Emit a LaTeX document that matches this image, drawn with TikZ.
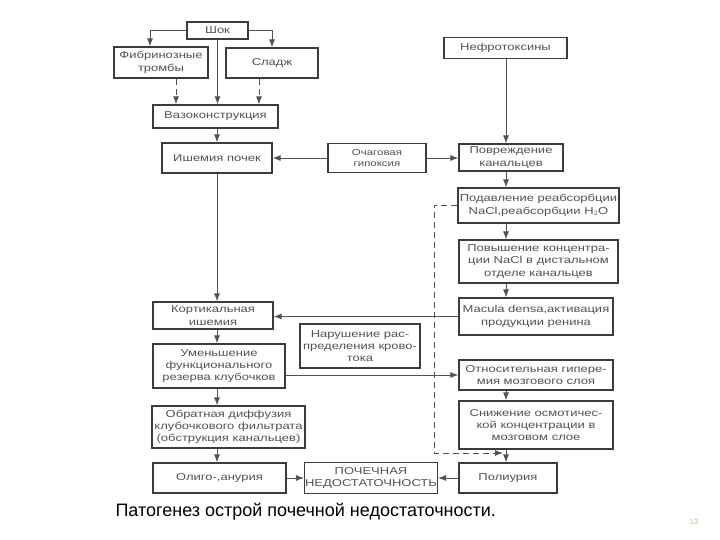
\documentclass[tikz,border=0pt]{standalone}
\usepackage{fontspec}
\setmainfont{Liberation Sans}
\newfontfamily\boxfont[FakeStretch=1.3]{Liberation Sans}
\usetikzlibrary{arrows.meta}
\definecolor{ink}{HTML}{525252}
\definecolor{rama}{HTML}{3C3C3C}
\definecolor{nomer}{HTML}{B8B890}
\newcommand{\blok}[6]{\node[blok,minimum width=#4pt,minimum height=#5pt] (#1) at (#2,#3) {#6};}
\newcommand{\link}[2]{\draw[strelka] (#1) -- (#2);}
\newcommand{\vlink}[3]{\draw[strelka] (#1.south -| #3) -- (#2.north -| #3);}
\tikzset{blok/.style={draw=rama,line width=1.2pt,text=ink,align=center,inner sep=0.5pt,
    font=\boxfont\fontsize{10}{12.3}\selectfont},
  strelka/.style={draw=ink,line width=0.9pt,-{Latex[length=8pt,width=6pt]}},
  punktir/.style={strelka,dash pattern=on 6pt off 4pt}}

\begin{document}
\begin{tikzpicture}[x=1pt,y=-1pt]
    \useasboundingbox (0,0) rectangle (720,540);
    \coordinate (lcol) at (217,0); \coordinate (rcol) at (506,0);
    % left column
    \blok{shok}{217.5}{30.5}{61}{17}{Шок}
    \blok{fibrin}{161}{62.5}{94}{31}{Фибринозные\\тромбы}
    \blok{sladzh}{272}{63}{92}{30}{Сладж}
    \blok{vazo}{215.5}{116.5}{125}{23}{Вазоконструкция}
    \blok{ishem}{217}{158}{110}{30}{Ишемия почек}
    \node[blok,minimum width=98pt,minimum height=29pt,font=\boxfont\fontsize{8.8}{10.8}\selectfont] (ochag) at (377,158) {Очаговая\\гипоксия};
    \blok{kortik}{213}{315.5}{120}{27}{Кортикальная\\ишемия}
    \blok{narush}{360}{346}{120}{44}{Нарушение рас-\\пределения крово-\\тока}
    \blok{umensh}{219}{366}{132}{44}{Уменьшение\\функционального\\резерва клубочков}
    \blok{obrat}{228.5}{427}{153}{42}{Обратная диффузия\\клубочкового фильтрата\\(обструкция канальцев)}
    \blok{oligo}{219.5}{478}{133}{30}{Олиго-,анурия}
    \blok{pochech}{371}{478}{130}{31}{ПОЧЕЧНАЯ\\НЕДОСТАТОЧНОСТЬ}
    % right column
    \blok{nefro}{505.5}{48}{123}{21}{Нефротоксины}
    \blok{povr}{511}{157.5}{104}{27}{Повреждение\\канальцев}
    \blok{podavl}{538.5}{205.5}{161}{35}{Подавление реабсорбции\\NaCl,реабсорбции H$_2$O}
    \blok{povysh}{538.5}{261.5}{159}{43}{Повышение концентра-\\ции NaCl в дистальном\\отделе канальцев}
    \blok{macula}{536}{316.5}{154}{37}{Macula densa,активация\\продукции ренина}
    \blok{otnosit}{536}{375}{154}{30}{Относительная гипере-\\мия мозгового слоя}
    \blok{snizh}{536}{425}{154}{48}{Снижение осмотичес-\\кой концентрации в\\мозговом слое}
    \blok{poliur}{508}{478}{98}{30}{Полиурия}
    % arrows
    \draw[strelka] (shok.west) -| ([xshift=-11pt]fibrin.north);
    \draw[strelka] (shok.east) -| (sladzh.north);
    \draw[strelka] (shok.south) -- (shok.south |- vazo.north);
    \draw[punktir] ([xshift=15pt]fibrin.south) -- ([xshift=15pt]fibrin.south |- vazo.north);
    \draw[punktir] ([xshift=-13pt]sladzh.south) -- ([xshift=-13pt]sladzh.south |- vazo.north);
    \vlink{vazo}{ishem}{lcol}\vlink{ishem}{kortik}{lcol}
    \vlink{kortik}{umensh}{lcol}\vlink{umensh}{obrat}{lcol}\vlink{obrat}{oligo}{lcol}
    \draw[strelka] (ochag.west) -- (ochag.west -| ishem.east);
    \draw[strelka] (ochag.east) -- (ochag.east -| povr.west);
    \vlink{nefro}{povr}{rcol}\vlink{povr}{podavl}{rcol}\vlink{podavl}{povysh}{rcol}
    \vlink{povysh}{macula}{rcol}\vlink{otnosit}{snizh}{rcol}\vlink{snizh}{poliur}{rcol}
    \draw[strelka] (macula.west) -- (macula.west -| kortik.east);
    \draw[strelka] (otnosit.west -| umensh.east) -- (otnosit.west);
    \link{oligo}{pochech}\link{poliur}{pochech}
    \coordinate (dsh) at (434,453); \coordinate (dend) at (503,453);
    \draw[punktir] (podavl.west) -| (dsh) -- (dend);
    % caption
    \node[anchor=west,font=\fontsize{18}{20}\selectfont] (podpis) at (112,512) {Патогенез острой почечной недостаточности.};
    \node[text=nomer,font=\fontsize{7.5}{8}\selectfont] (str) at (694,522) {13};
\end{tikzpicture}
\end{document}
